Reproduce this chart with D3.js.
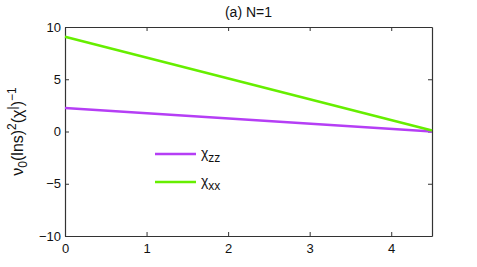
<!DOCTYPE html>
<html>
<head>
<meta charset="utf-8">
<script src="https://cdn.jsdelivr.net/npm/d3@7"></script>
<style>
  body { margin: 0; background: #fff; }
  text { font-family: "Liberation Sans", Arial, sans-serif; }
</style>
</head>
<body>
<div id="chart"></div>
<script>
// data
var xValues = [0, 4.5];
var chiZZ = [2.25, 0.0];
var chiXX = [9.07, 0.1];
var seriesNames = ['zz', 'xx'];
var xTicks = [0, 1, 2, 3, 4];
var yTicks = [-10, -5, 0, 5, 10];

var W = 477, H = 267;
var margin = {left: 65, top: 27, right: 45, bottom: 31};
var width = W - margin.left - margin.right;
var height = H - margin.top - margin.bottom;

var svg = d3.select('#chart').append('svg')
  .attr('width', W).attr('height', H);

var xScale = d3.scaleLinear().domain([0, 4.5]).range([0, width]);
var yScale = d3.scaleLinear().domain([-10, 10]).range([height, 0]);

var g = svg.append('g')
  .attr('transform', 'translate(' + margin.left + ',' + margin.top + ')');

// axes, matlab style box with inward ticks
var tl = 4;
g.append('g').attr('transform', 'translate(0,' + height + ')')
  .call(d3.axisBottom(xScale).tickValues(xTicks).tickSize(-tl).tickPadding(8).tickSizeOuter(0)
    .tickFormat(d3.format('d')));
g.append('g')
  .call(d3.axisTop(xScale).tickValues(xTicks).tickSize(-tl).tickFormat('').tickSizeOuter(0));
g.append('g')
  .call(d3.axisLeft(yScale).tickValues(yTicks).tickSize(-tl).tickPadding(4).tickSizeOuter(0)
    .tickFormat(function (d) { return d < 0 ? '\u2212' + (-d) : d; }));
g.append('g').attr('transform', 'translate(' + width + ',0)')
  .call(d3.axisRight(yScale).tickValues(yTicks).tickSize(-tl).tickFormat('').tickSizeOuter(0));

g.selectAll('.domain').attr('stroke', '#333').attr('stroke-width', 1.2);
g.selectAll('.tick line').attr('stroke', '#333');
g.selectAll('.tick text').attr('font-size', 13).attr('fill', '#111')
  .attr('font-family', '"Liberation Sans", Arial, sans-serif');

// lines
var line = d3.line()
  .x(function (d) { return xScale(d[0]); })
  .y(function (d) { return yScale(d[1]); });

var colors = ['#b53ef5', '#66ee00'];
var series = [chiZZ, chiXX];

series.forEach(function (s, i) {
  g.append('path')
    .datum(xValues.map(function (x, j) { return [x, s[j]]; }))
    .attr('d', line)
    .attr('fill', 'none')
    .attr('stroke', colors[i])
    .attr('stroke-width', 2.6);
});

// legend
var legend = g.append('g').attr('transform', 'translate(90,127)');
seriesNames.forEach(function (name, i) {
  var row = legend.append('g').attr('transform', 'translate(0,' + (i * 28) + ')');
  row.append('line').attr('x1', 0).attr('x2', 41).attr('y1', 0).attr('y2', 0)
    .attr('stroke', colors[i]).attr('stroke-width', 2.6);
  var t = row.append('text').attr('x', 46).attr('y', 4).attr('font-size', 14).attr('fill', '#111');
  t.append('tspan').text('\u03c7');
  t.append('tspan').attr('dy', 4).attr('font-size', 12).text(name);
});

// title
svg.append('text')
  .attr('x', margin.left + width / 2).attr('y', 17)
  .attr('text-anchor', 'middle').attr('font-size', 14).attr('fill', '#111')
  .text('(a) N=1');

// y label
var yl = svg.append('text')
  .attr('transform', 'translate(23,' + (margin.top + height / 2) + ') rotate(-90)')
  .attr('text-anchor', 'middle').attr('font-size', 16).attr('fill', '#111');
yl.append('tspan').text('\u03bd');
yl.append('tspan').attr('dy', 4).attr('font-size', 12).text('0');
yl.append('tspan').attr('dy', -4).text('(lns)');
yl.append('tspan').attr('dy', -7).attr('font-size', 12).text('2');
yl.append('tspan').attr('dy', 7).text('(\u03c7');
yl.append('tspan').attr('dy', -7).attr('font-size', 12).text('|');
yl.append('tspan').attr('dy', 7).text(')');
yl.append('tspan').attr('dy', -7).attr('font-size', 12).text('\u22121');
</script>
</body>
</html>
